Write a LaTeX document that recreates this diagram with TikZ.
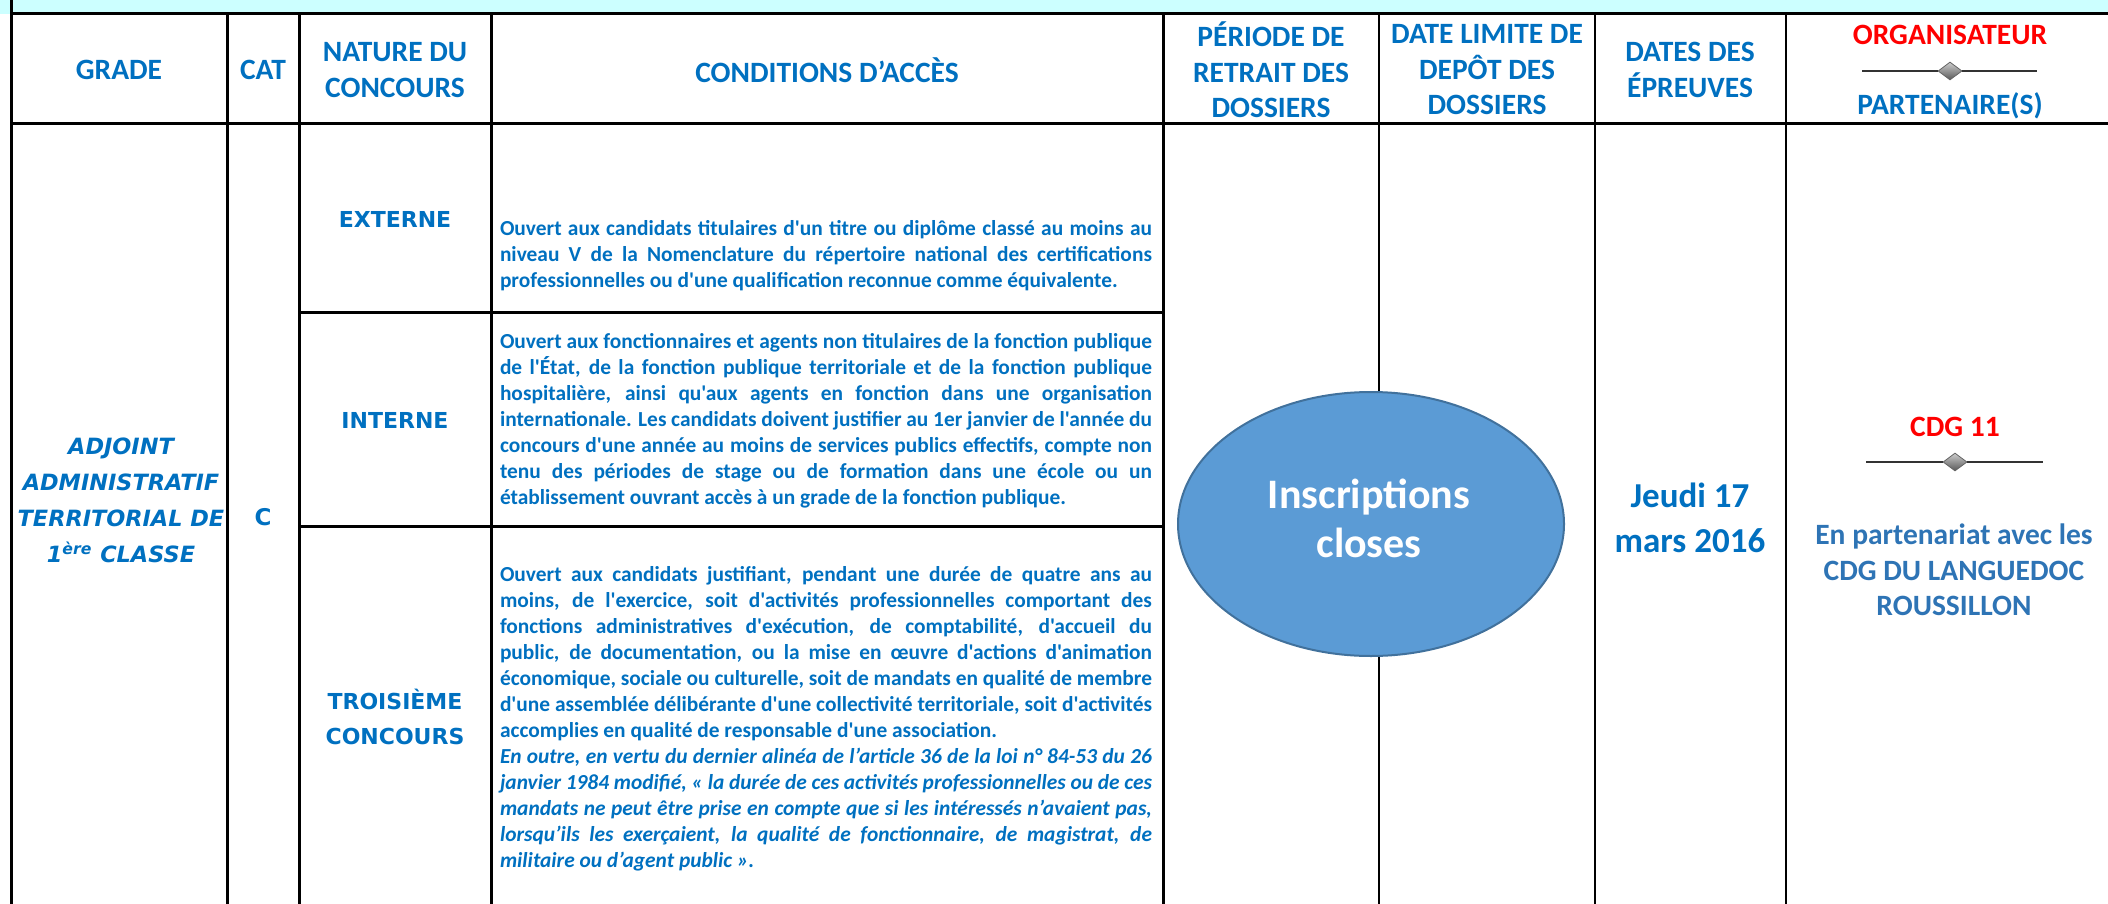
\documentclass[tikz,border=0pt]{standalone}
\usepackage{fontspec}
\usetikzlibrary{shapes.geometric}
\newfontfamily\calib{Carlito}
\newfontfamily\verd{DejaVu Sans}
\definecolor{hblue}{HTML}{0070C0}
\definecolor{pblue}{HTML}{2E74B5}
\definecolor{band}{HTML}{CCFFFF}
\definecolor{ovalfill}{HTML}{5B9BD5}
\definecolor{ovaldraw}{HTML}{41719C}

\begin{document}
\begin{tikzpicture}[x=0.5pt,y=-0.5pt]

\tikzset{head/.style = {font={\calib\fontsize{14.75}{17.75}\selectfont\bfseries}, text=hblue, align=center, inner sep=0pt}}
\tikzset{cond/.style = {font={\calib\fontsize{10.7}{13}\selectfont\bfseries}, text=hblue, text width=326pt, align=justify, inner sep=0pt}}
\tikzset{kind/.style = {font={\verd\fontsize{11}{17.5}\selectfont\bfseries}, text=hblue, align=center, inner sep=0pt}}
\tikzset{grade/.style = {font={\verd\fontsize{11.2}{18}\selectfont\bfseries\itshape}, text=hblue, align=center, inner sep=0pt}}
\tikzset{rule/.style = {line width=1.5pt}}
\tikzset{thinrule/.style = {line width=1pt}}
\tikzset{sepline/.style = {line width=1.2pt, draw=black!80}}
\tikzset{gem/.style = {diamond, draw=black!60, top color=black!20, bottom color=black!65, minimum width=12pt, minimum height=9pt, inner sep=0pt}}
\tikzset{oval/.style = {ellipse, fill=ovalfill, draw=ovaldraw, line width=1pt, minimum width=193pt, minimum height=132pt, inner sep=0pt}}

\useasboundingbox (0,0) rectangle (2108,904);

% band and grid
\fill[band] (0,0) rectangle (2108,14);
\draw[rule] (11,0) -- (11,904);
\draw[rule] (11,14) -- (2108,14);
\draw[rule] (11,124) -- (2108,124);
\foreach \x in {227,299,491,1163}
  \draw[rule] (\x,14) -- (\x,904);
\foreach \x in {1379,1595,1786}
  \draw[thinrule] (\x,14) -- (\x,904);
\foreach \y in {312,526}
  \draw[rule] (299,\y) -- (1163,\y);

% header
\node[head] (hgrade) at (119,70) {GRADE};
\node[head] (hcat) at (263,70) {CAT};
\node[head] (hnature) at (395,70) {NATURE DU\\CONCOURS};
\node[head] (hcond) at (827,70) {CONDITIONS D’ACCÈS};
\node[head] (hretrait) at (1271,70) {PÉRIODE DE\\RETRAIT DES\\DOSSIERS};
\node[head] (hdepot) at (1487,70) {DATE LIMITE DE\\DEPÔT DES\\DOSSIERS};
\node[head] (hdates) at (1690,70) {DATES DES\\ÉPREUVES};
\node[head, text=red] (horg) at (1950,35) {ORGANISATEUR};
\node[gem] (g1) at (1950,71) {};
\coordinate (g1l) at (1862,71);
\coordinate (g1r) at (2037,71);
\draw[sepline] (g1l) -- (g1.west);
\draw[sepline] (g1.east) -- (g1r);
\node[head] (hpart) at (1950,106) {PARTENAIRE(S)};

% body
\node[grade] (grade) at (121,500) {ADJOINT\\ADMINISTRATIF\\TERRITORIAL DE\\1\textsuperscript{ère} CLASSE};
\node[kind, font={\verd\fontsize{11.5}{17.5}\selectfont\bfseries}] (cat) at (263,517) {C};
\node[kind] (ext) at (395,219) {EXTERNE};
\node[kind] (int) at (395,420) {INTERNE};
\node[kind] (trois) at (395,717) {TROISIÈME\\CONCOURS};

\node[cond] (cext) at (826,256) {Ouvert aux candidats titulaires d'un titre ou diplôme classé au moins au\linebreak
niveau V de la Nomenclature du répertoire national des certifications\linebreak
professionnelles ou d'une qualification reconnue comme équivalente.};

\node[cond] (cint) at (826,421) {Ouvert aux fonctionnaires et agents non titulaires de la fonction publique\linebreak
de l'État, de la fonction publique territoriale et de la fonction publique\linebreak
hospitalière, ainsi qu'aux agents en fonction dans une organisation\linebreak
internationale. Les candidats doivent justifier au 1er janvier de l'année du\linebreak
concours d'une année au moins de services publics effectifs, compte non\linebreak
tenu des périodes de stage ou de formation dans une école ou un\linebreak
établissement ouvrant accès à un grade de la fonction publique.};

\node[cond] (ctrois) at (826,719) {Ouvert aux candidats justifiant, pendant une durée de quatre ans au\linebreak
moins, de l'exercice, soit d'activités professionnelles comportant des\linebreak
fonctions administratives d'exécution, de comptabilité, d'accueil du\linebreak
public, de documentation, ou la mise en œuvre d'actions d'animation\linebreak
économique, sociale ou culturelle, soit de mandats en qualité de membre\linebreak
d'une assemblée délibérante d'une collectivité territoriale, soit d'activités\linebreak
accomplies en qualité de responsable d'une association.\newline
\itshape En outre, en vertu du dernier alinéa de l’article 36 de la loi n° 84-53 du 26\linebreak
janvier 1984 modifié, « la durée de ces activités professionnelles ou de ces\linebreak
mandats ne peut être prise en compte que si les intéressés n’avaient pas,\linebreak
lorsqu’ils les exerçaient, la qualité de fonctionnaire, de magistrat, de\linebreak
militaire ou d’agent public ».};

\node[oval] (shut) at (1371,524) {};
\node[head, text=white, font={\calib\fontsize{21}{24.5}\selectfont\bfseries}] (shuttxt) at (1369,518) {Inscriptions\\closes};

\node[head, font={\calib\fontsize{17.5}{22.5}\selectfont\bfseries}] (date) at (1690,518) {Jeudi 17\\mars 2016};

\node[head, text=red] (cdg) at (1955,427) {CDG 11};
\node[gem] (g2) at (1955,462) {};
\coordinate (g2l) at (1866,462);
\coordinate (g2r) at (2043,462);
\draw[sepline] (g2l) -- (g2.west);
\draw[sepline] (g2.east) -- (g2r);
\node[head, text=pblue] (part) at (1954,570) {En partenariat avec les\\CDG DU LANGUEDOC\\ROUSSILLON};

\end{tikzpicture}
\end{document}
